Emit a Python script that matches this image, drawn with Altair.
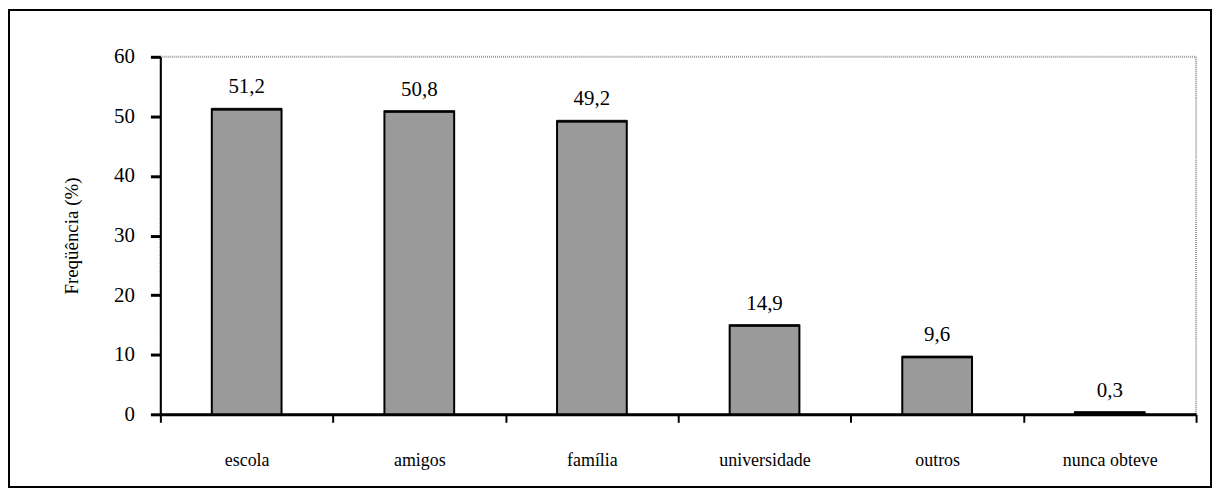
import altair as alt
import pandas as pd

categories = ["escola", "amigos", "família", "universidade", "outros", "nunca obteve"]
values = [51.2, 50.8, 49.2, 14.9, 9.6, 0.3]

df = pd.DataFrame({"cat": categories, "v": values})

FONT = "Liberation Serif"
W, H = 1040, 359

x = alt.X("cat:N", sort=categories, title=None,
          scale=alt.Scale(paddingInner=0, paddingOuter=0),
          axis=alt.Axis(labelAngle=0, labelFont=FONT, labelFontSize=18, labelColor="black",
                        labelPadding=29, domainColor="black", domainWidth=3,
                        tickColor="black", tickWidth=2, tickSize=8, tickBand="extent"))
y = alt.Y("v:Q", title="Freqüência (%)",
          scale=alt.Scale(domain=[0, 60], nice=False),
          axis=alt.Axis(values=[0, 10, 20, 30, 40, 50, 60], grid=False,
                        labelFont=FONT, labelFontSize=21, labelColor="black", labelPadding=16,
                        domainColor="black", domainWidth=2, tickColor="black", tickWidth=3,
                        tickSize=10, titleFont=FONT, titleFontSize=19, titleFontWeight="normal",
                        titleColor="black", titlePadding=32))

base = alt.Chart(df)

frame = base.mark_rect(fill=None, stroke="black", strokeWidth=2, clip=False).encode(
    x=alt.value(-152), x2=alt.value(1055), y=alt.value(-47), y2=alt.value(432)
).transform_filter(alt.datum.cat == "escola")

bars = base.mark_bar(fill="#9a9a9a", stroke="black", strokeWidth=2,
                     width=alt.RelativeBandSize(0.404)).encode(x=x, y=y)

tops = base.mark_tick(color="black", thickness=3, size=71).encode(
    x=alt.X("cat:N", sort=categories), y="v:Q")

labels = base.transform_calculate(
    lab="replace(format(datum.v, '.1f'), '.', ',')"
).mark_text(font=FONT, fontSize=21, color="black", baseline="bottom", dy=-12).encode(
    x=alt.X("cat:N", sort=categories), y="v:Q", text="lab:N")

chart = alt.layer(frame, bars, tops, labels).properties(
    width=W, height=H,
    autosize=alt.AutoSizeParams(type="none"),
    padding={"left": 153, "top": 48, "right": 18, "bottom": 75},
    background="white",
).configure_view(stroke="#999999", strokeDash=[1, 1], strokeWidth=2)

chart.save("out.html", embed_options={"renderer": "svg", "actions": False})
